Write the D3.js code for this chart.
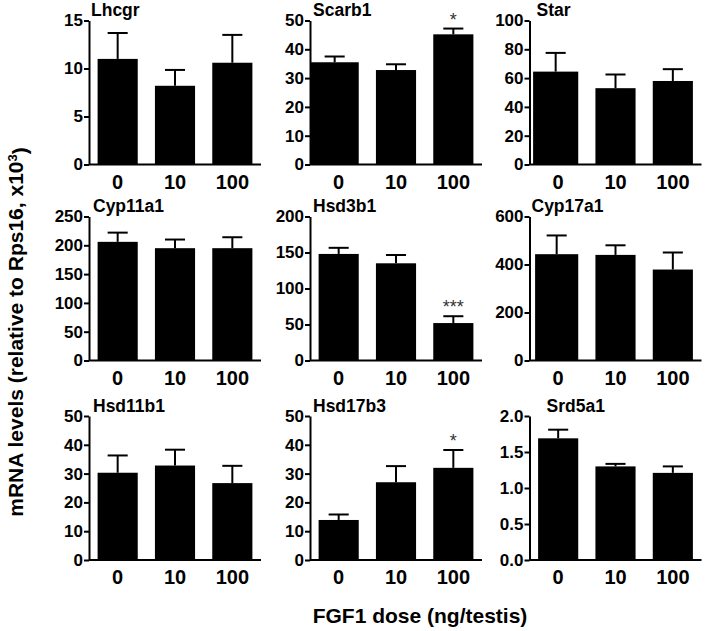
<!DOCTYPE html>
<html>
<head>
<meta charset="utf-8">
<script src="https://cdn.jsdelivr.net/npm/d3@7"></script>
<style>
  html, body { margin: 0; padding: 0; background: #fff; }
  text { font-family: "Liberation Sans", Arial, Helvetica, sans-serif; font-weight: bold; fill: #000; }
</style>
</head>
<body>
<script>
// ---------------- DATA ----------------
const doses = ["0", "10", "100"];
const genes = ["Lhcgr", "Scarb1", "Star", "Cyp11a1", "Hsd3b1", "Cyp17a1", "Hsd11b1", "Hsd17b3", "Srd5a1"];

const lhcgrMean   = [11.0, 8.2, 10.6];   const lhcgrSem   = [2.7, 1.65, 2.9];
const scarb1Mean  = [35.5, 32.8, 45.2];  const scarb1Sem  = [2.0, 2.0, 2.0];
const starMean    = [64.5, 53, 58];      const starSem    = [13, 9.5, 8.2];
const cyp11a1Mean = [206, 195, 195];     const cyp11a1Sem = [16, 15, 19];
const hsd3b1Mean  = [148, 135, 52];      const hsd3b1Sem  = [8.5, 11.5, 9.5];
const cyp17a1Mean = [443, 440, 379];     const cyp17a1Sem = [78, 40, 71];
const hsd11b1Mean = [30.3, 32.8, 26.7];  const hsd11b1Sem = [6.0, 5.5, 6.0];
const hsd17b3Mean = [13.9, 27.0, 32.0];  const hsd17b3Sem = [1.9, 5.6, 6.2];
const srd5a1Mean  = [1.69, 1.30, 1.21];  const srd5a1Sem  = [0.12, 0.035, 0.09];

const means = [lhcgrMean, scarb1Mean, starMean, cyp11a1Mean, hsd3b1Mean, cyp17a1Mean, hsd11b1Mean, hsd17b3Mean, srd5a1Mean];
const sems  = [lhcgrSem, scarb1Sem, starSem, cyp11a1Sem, hsd3b1Sem, cyp17a1Sem, hsd11b1Sem, hsd17b3Sem, srd5a1Sem];

const yMaxes     = [15, 50, 100, 250, 200, 600, 50, 50, 2.0];
const yTickSteps = [5, 10, 20, 50, 50, 200, 10, 10, 0.5];

const scarb1Sig  = ["", "", "*"];
const hsd3b1Sig  = ["", "", "***"];
const hsd17b3Sig = ["", "", "*"];
const significance = [null, scarb1Sig, null, null, hsd3b1Sig, null, null, hsd17b3Sig, null];

const yAxisTitle = "mRNA levels (relative to Rps16, x10";
const yAxisTitleSup = "3";
const xAxisTitle = "FGF1 dose (ng/testis)";

// ---------------- LAYOUT ----------------
const colX = [89, 310, 529.5];
const rowTop = [20.5, 216.5, 416];
const W = 172, H = 144;
const titleDx = [2, 3, 7, 4, 3, 2, 4, 3, 17];
// in the original, the first bar of a few panels reaches further left (towards the axis)
const firstBarExtend = [0, 8, 5, 0, 0, 3, 0, 0, 0];

const svg = d3.select("body").append("svg")
  .attr("width", 709).attr("height", 631);

genes.forEach((gene, i) => {
  const col = i % 3, row = Math.floor(i / 3);
  const g = svg.append("g").attr("transform", `translate(${colX[col]},${rowTop[row]})`);

  const x = d3.scaleBand().domain(doses).range([0, W]).paddingInner(0.3).paddingOuter(0.15);
  const y = d3.scaleLinear().domain([0, yMaxes[i]]).range([H, 0]);
  const bw = x.bandwidth();
  const data = doses.map((d, k) => ({ dose: d, k: k, mean: means[i][k], sem: sems[i][k], sig: significance[i] ? significance[i][k] : "" }));
  const ext = d => (d.k === 0 ? firstBarExtend[i] : 0);

  // bars
  g.selectAll("rect.bar").data(data).enter().append("rect")
    .attr("class", "bar")
    .attr("x", d => x(d.dose) - ext(d))
    .attr("y", d => y(d.mean))
    .attr("width", d => bw + ext(d))
    .attr("height", d => y(0) - y(d.mean))
    .attr("fill", "#000");

  // error bars (upper only)
  const cx = d => x(d.dose) + (bw - ext(d)) / 2;
  const eb = g.selectAll("g.err").data(data).enter().append("g").attr("class", "err");
  eb.append("line")
    .attr("x1", cx).attr("x2", cx)
    .attr("y1", d => y(d.mean)).attr("y2", d => y(d.mean + d.sem))
    .attr("stroke", "#000").attr("stroke-width", 2);
  eb.append("line")
    .attr("x1", d => cx(d) - bw / 4).attr("x2", d => cx(d) + bw / 4)
    .attr("y1", d => y(d.mean + d.sem)).attr("y2", d => y(d.mean + d.sem))
    .attr("stroke", "#000").attr("stroke-width", 2);

  // significance
  g.selectAll("text.sig").data(data.filter(d => d.sig)).enter().append("text")
    .attr("class", "sig")
    .attr("x", d => cx(d))
    .attr("y", d => y(d.mean + d.sem) - 3)
    .attr("text-anchor", "middle")
    .style("font-weight", "normal")
    .style("font-size", "18px")
    .style("fill", "#333")
    .text(d => d.sig);

  // y axis
  const step = yTickSteps[i];
  const ticks = d3.range(0, yMaxes[i] + step / 2, step);
  const fmt = step < 1 ? d3.format(".1f") : d3.format("d");
  const ya = g.append("g").call(d3.axisLeft(y).tickValues(ticks).tickFormat(fmt).tickSize(5).tickSizeOuter(0).tickPadding(1));
  ya.select(".domain").attr("stroke", "#000").attr("stroke-width", 2);
  ya.selectAll(".tick line").attr("stroke", "#000").attr("stroke-width", 2);
  ya.selectAll(".tick text").style("font-size", "17px").style("font-family", "'Liberation Sans', Arial, sans-serif").style("font-weight", "bold").attr("fill", "#000");

  // x axis
  const xa = g.append("g").attr("transform", `translate(0,${H})`)
    .call(d3.axisBottom(x).tickSize(0).tickPadding(10));
  xa.select(".domain").attr("stroke", "#000").attr("stroke-width", 2).attr("d", `M0,0H${W}`);
  xa.selectAll(".tick text").style("font-size", "20px").style("font-family", "'Liberation Sans', Arial, sans-serif").style("font-weight", "bold").attr("fill", "#000");

  // panel title
  g.append("text")
    .attr("x", titleDx[i]).attr("y", -4.5)
    .style("font-size", "17.5px")
    .text(gene);
});

// y axis title
const yt = svg.append("text")
  .attr("transform", "translate(23,332) rotate(-90)")
  .attr("text-anchor", "middle")
  .style("font-size", "21px");
yt.append("tspan").text(yAxisTitle);
yt.append("tspan").attr("dy", "-0.45em").style("font-size", "13px").text(yAxisTitleSup);
yt.append("tspan").attr("dy", "0.45em").text(")");

// x axis title
svg.append("text")
  .attr("x", 420).attr("y", 623)
  .attr("text-anchor", "middle")
  .style("font-size", "21px")
  .text(xAxisTitle);
</script>
</body>
</html>
